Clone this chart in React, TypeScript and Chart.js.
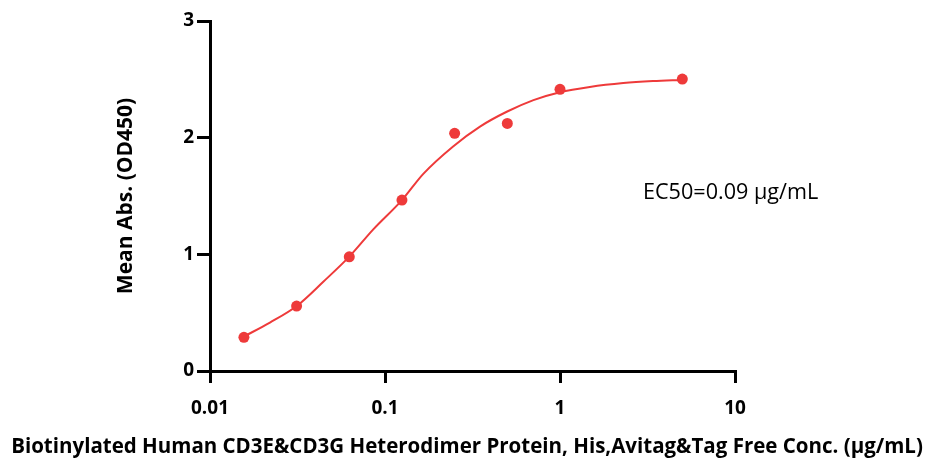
import React, { useEffect, useRef } from "react";
import { Chart, registerables } from "chart.js";

Chart.register(...registerables);

// Measured points (concentration in µg/mL, mean absorbance OD450)
const concentrations = [0.015625, 0.03125, 0.0625, 0.125, 0.25, 0.5, 1, 5];
const meanAbs = [0.289, 0.557, 0.979, 1.465, 2.037, 2.122, 2.414, 2.502];

// Fitted curve
const fitConc = [0.0156, 0.022, 0.0313, 0.0444, 0.0625, 0.0857, 0.125, 0.1655, 0.245, 0.349, 0.496, 0.705, 1.0, 1.48, 2.3, 3.4, 5.0];
const fitAbs = [0.295, 0.415, 0.557, 0.765, 0.98, 1.214, 1.465, 1.69, 1.925, 2.095, 2.222, 2.322, 2.39, 2.435, 2.468, 2.485, 2.495];

const xTicks = [0.01, 0.1, 1, 10];
const xTickLabels = ["0.01", "0.1", "1", "10"];
const yTicks = [0, 1, 2, 3];
const yTickLabels = ["0", "1", "2", "3"];

const xTitle = "Biotinylated Human CD3E&CD3G Heterodimer Protein, His,Avitag&Tag Free Conc. (μg/mL)";
const yTitle = "Mean Abs. (OD450)";
const ec50Label = "EC50=0.09 μg/mL";

const RED = "#EE3A3A";
const FONT = '"Open Sans", "DejaVu Sans", sans-serif';

const ec50Plugin = {
  id: "ec50Label",
  afterDatasetsDraw(chart: any) {
    const { ctx, chartArea } = chart;
    ctx.save();
    ctx.font = `21.6px ${FONT}`;
    ctx.fillStyle = "#000";
    ctx.textBaseline = "middle";
    ctx.textAlign = "left";
    ctx.fillText(ec50Label, chartArea.left + 433, chartArea.top + 172);
    ctx.restore();
  },
};

export default function App() {
  const ref = useRef<HTMLCanvasElement | null>(null);

  useEffect(() => {
    if (!ref.current) return;
    const chart = new Chart(ref.current, {
      type: "scatter",
      data: {
        datasets: [
          {
            label: "fit",
            data: fitConc.map((x, i) => ({ x, y: fitAbs[i] })),
            showLine: true,
            borderColor: RED,
            borderWidth: 2,
            pointRadius: 0,
            cubicInterpolationMode: "monotone",
            order: 2,
          },
          {
            label: "data",
            data: concentrations.map((x, i) => ({ x, y: meanAbs[i] })),
            showLine: false,
            backgroundColor: RED,
            borderColor: RED,
            pointRadius: 5.5,
            pointBorderWidth: 0,
            order: 1,
          },
        ],
      },
      options: {
        responsive: false,
        animation: false,
        events: [],
        layout: { padding: { left: 0, top: 21, right: 0, bottom: 0 } },
        plugins: {
          legend: { display: false },
          tooltip: { enabled: false },
          title: {
            display: true,
            position: "bottom",
            text: xTitle,
            color: "#000",
            font: { family: FONT, size: 20.5, weight: "bold" },
            padding: { top: 0, bottom: 0.7 },
          },
        },
        scales: {
          x: {
            type: "logarithmic",
            min: 0.01,
            max: 10,
            afterBuildTicks: (scale: any) => {
              scale.ticks = xTicks.map((v) => ({ value: v }));
            },
            afterFit: (scale: any) => {
              scale.height = 63.7;
            },
            ticks: {
              autoSkip: false,
              maxRotation: 0,
              padding: 14,
              color: "#000",
              font: { family: FONT, size: 19, weight: "bold" },
              callback: (v: any) => {
                const i = xTicks.findIndex((t) => Math.abs(t - Number(v)) < 1e-9);
                return i >= 0 ? xTickLabels[i] : "";
              },
            },
            grid: {
              display: true,
              drawOnChartArea: false,
              drawTicks: true,
              tickLength: 12,
              color: "#000",
              lineWidth: 3,
            },
            border: { display: true, color: "#000", width: 3 },
          },
          y: {
            type: "linear",
            min: 0,
            max: 3,
            afterBuildTicks: (scale: any) => {
              scale.ticks = yTicks.map((v) => ({ value: v }));
            },
            afterFit: (scale: any) => {
              scale.width = 210;
            },
            ticks: {
              padding: 3,
              color: "#000",
              font: { family: FONT, size: 19, weight: "bold" },
              callback: (v: any) => {
                const i = yTicks.indexOf(Number(v));
                return i >= 0 ? yTickLabels[i] : "";
              },
            },
            grid: {
              display: true,
              drawOnChartArea: false,
              drawTicks: true,
              tickLength: 13,
              color: "#000",
              lineWidth: 3,
            },
            border: { display: true, color: "#000", width: 3 },
            title: {
              display: true,
              text: yTitle,
              color: "#000",
              font: { family: FONT, size: 21, weight: "bold" },
              padding: { top: 113, bottom: 0 },
            },
          },
          rightSpace: {
            type: "linear",
            position: "right",
            display: true,
            afterFit: (scale: any) => {
              scale.width = 199;
            },
            ticks: { display: false },
            grid: { display: false, drawTicks: false },
            border: { display: false },
          },
        },
      },
      plugins: [ec50Plugin],
    } as any);
    return () => chart.destroy();
  }, []);

  return (
    <div style={{ position: "fixed", left: 0, top: 0, width: 934, height: 460, background: "#fff" }}>
      <canvas ref={ref} width={934} height={460} style={{ display: "block" }} />
    </div>
  );
}
